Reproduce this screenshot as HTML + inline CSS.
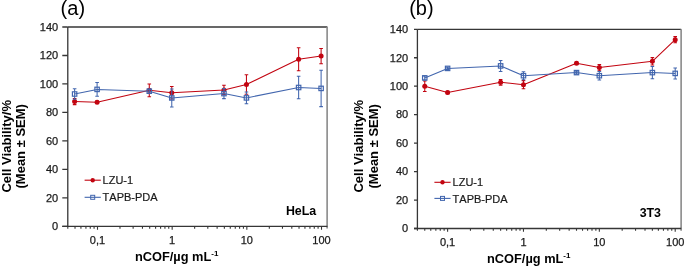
<!DOCTYPE html>
<html><head><meta charset="utf-8">
<style>
html,body{margin:0;padding:0;background:#fff;}
body{width:685px;height:267px;overflow:hidden;}
svg{display:block;will-change:transform;filter:blur(0.35px);}
text{font-family:"Liberation Sans",sans-serif;fill:#1a1a1a;font-kerning:none;}
.tk{font-size:11px;stroke:#1a1a1a;stroke-width:0.25px;}
.lg{font-size:11px;stroke:#1a1a1a;stroke-width:0.2px;}
.pl{font-size:20px;fill:#000;}
.cl{font-size:12.4px;font-weight:bold;fill:#000;}
.ax{font-size:13px;font-weight:bold;fill:#000;}
.xl{font-size:12.8px;}
.sup{font-size:8px;font-weight:bold;}
</style></head>
<body>
<svg width="685" height="267" viewBox="0 0 685 267">
<rect width="685" height="267" fill="#fff"/>
<path d="M67.79 27H327.42" stroke="#363636" stroke-width="1.3" fill="none"/>
<path d="M327.12 27V228.6" stroke="#8a8a8a" stroke-width="1.6" fill="none"/>
<path d="M67.79 27V226.4M62.29 226.4H327.42" stroke="#363636" stroke-width="1.3" fill="none"/>
<path d="M62.29 226.4H67.79M62.29 197.91H67.79M62.29 169.43H67.79M62.29 140.94H67.79M62.29 112.46H67.79M62.29 83.97H67.79M62.29 55.48H67.79M62.29 27H67.79" stroke="#363636" stroke-width="1.3" fill="none"/>
<path d="M67.79 226.4v2.3M75.02 226.4v2.3M80.93 226.4v2.3M85.93 226.4v2.3M90.26 226.4v2.3M94.08 226.4v2.3M97.5 226.4v3.3M119.98 226.4v2.3M133.13 226.4v2.3M142.46 226.4v2.3M149.69 226.4v2.3M155.6 226.4v2.3M160.6 226.4v2.3M164.93 226.4v2.3M168.75 226.4v2.3M172.17 226.4v3.3M194.65 226.4v2.3M207.8 226.4v2.3M217.13 226.4v2.3M224.36 226.4v2.3M230.27 226.4v2.3M235.27 226.4v2.3M239.6 226.4v2.3M243.42 226.4v2.3M246.84 226.4v3.3M269.32 226.4v2.3M282.47 226.4v2.3M291.8 226.4v2.3M299.03 226.4v2.3M304.94 226.4v2.3M309.94 226.4v2.3M314.27 226.4v2.3M318.09 226.4v2.3M321.51 226.4v3.3" stroke="#363636" stroke-width="1.1" fill="none"/>
<text x="58.2" y="230.15" text-anchor="end" class="tk">0</text>
<text x="58.2" y="201.66" text-anchor="end" class="tk">20</text>
<text x="58.2" y="173.18" text-anchor="end" class="tk">40</text>
<text x="58.2" y="144.69" text-anchor="end" class="tk">60</text>
<text x="58.2" y="116.21" text-anchor="end" class="tk">80</text>
<text x="58.2" y="87.72" text-anchor="end" class="tk">100</text>
<text x="58.2" y="59.23" text-anchor="end" class="tk">120</text>
<text x="58.2" y="30.75" text-anchor="end" class="tk">140</text>
<text x="97.5" y="243.7" text-anchor="middle" class="tk">0,1</text>
<text x="172.17" y="243.7" text-anchor="middle" class="tk">1</text>
<text x="246.84" y="243.7" text-anchor="middle" class="tk">10</text>
<text x="321.51" y="243.7" text-anchor="middle" class="tk">100</text>
<path d="M74.62 101.5 L97.1 102.3 L149.29 90.3 L171.77 92.7 L223.96 89.9 L246.44 84.5 L298.63 59.2 L321.11 56.1" stroke="#c20410" stroke-width="1.05" fill="none" stroke-linejoin="round"/>
<path d="M74.62 98.4V104.6M72.82 98.4h3.6M72.82 104.6h3.6M97.1 101.1V103.5M95.3 101.1h3.6M95.3 103.5h3.6M149.29 83.9V96.7M147.49 83.9h3.6M147.49 96.7h3.6M171.77 86.5V98.9M169.97 86.5h3.6M169.97 98.9h3.6M223.96 85.3V94.5M222.16 85.3h3.6M222.16 94.5h3.6M246.44 74.7V94.3M244.64 74.7h3.6M244.64 94.3h3.6M298.63 47.7V70.7M296.83 47.7h3.6M296.83 70.7h3.6M321.11 48.5V63.7M319.31 48.5h3.6M319.31 63.7h3.6" stroke="#c20410" stroke-width="1.05" fill="none"/>
<circle cx="74.62" cy="101.5" r="2.5" fill="#c20410"/>
<circle cx="97.1" cy="102.3" r="2.5" fill="#c20410"/>
<circle cx="149.29" cy="90.3" r="2.5" fill="#c20410"/>
<circle cx="171.77" cy="92.7" r="2.5" fill="#c20410"/>
<circle cx="223.96" cy="89.9" r="2.5" fill="#c20410"/>
<circle cx="246.44" cy="84.5" r="2.5" fill="#c20410"/>
<circle cx="298.63" cy="59.2" r="2.5" fill="#c20410"/>
<circle cx="321.11" cy="56.1" r="2.5" fill="#c20410"/>
<path d="M74.62 94 L97.1 89.4 L149.29 91.2 L171.77 97.95 L223.96 93.6 L246.44 97.9 L298.63 87.5 L321.11 88.4" stroke="#4266ae" stroke-width="1.05" fill="none" stroke-linejoin="round"/>
<path d="M74.62 88.8V99.2M72.82 88.8h3.6M72.82 99.2h3.6M97.1 82.5V96.3M95.3 82.5h3.6M95.3 96.3h3.6M149.29 89.2V93.2M147.49 89.2h3.6M147.49 93.2h3.6M171.77 89V106.9M169.97 89h3.6M169.97 106.9h3.6M223.96 88.6V98.6M222.16 88.6h3.6M222.16 98.6h3.6M246.44 92V103.8M244.64 92h3.6M244.64 103.8h3.6M298.63 76.3V98.7M296.83 76.3h3.6M296.83 98.7h3.6M321.11 70.2V106.6M319.31 70.2h3.6M319.31 106.6h3.6" stroke="#4266ae" stroke-width="1.05" fill="none"/>
<rect x="72.42" y="91.8" width="4.4" height="4.4" fill="none" stroke="#4266ae" stroke-width="1.2"/>
<rect x="94.9" y="87.2" width="4.4" height="4.4" fill="none" stroke="#4266ae" stroke-width="1.2"/>
<rect x="147.09" y="89" width="4.4" height="4.4" fill="none" stroke="#4266ae" stroke-width="1.2"/>
<rect x="169.57" y="95.75" width="4.4" height="4.4" fill="none" stroke="#4266ae" stroke-width="1.2"/>
<rect x="221.76" y="91.4" width="4.4" height="4.4" fill="none" stroke="#4266ae" stroke-width="1.2"/>
<rect x="244.24" y="95.7" width="4.4" height="4.4" fill="none" stroke="#4266ae" stroke-width="1.2"/>
<rect x="296.43" y="85.3" width="4.4" height="4.4" fill="none" stroke="#4266ae" stroke-width="1.2"/>
<rect x="318.91" y="86.2" width="4.4" height="4.4" fill="none" stroke="#4266ae" stroke-width="1.2"/>
<path d="M84.6 180.2h16.2" stroke="#c20410" stroke-width="1.1"/>
<circle cx="92.7" cy="180.2" r="2.2" fill="#c20410"/>
<path d="M84.6 197.3h16.2" stroke="#4266ae" stroke-width="1.1"/>
<rect x="90.7" y="195.3" width="4" height="4" fill="none" stroke="#4266ae" stroke-width="1"/>
<text x="102.6" y="184.1" class="lg">LZU-1</text>
<text x="102.6" y="201.4" class="lg">TAPB-PDA</text>
<text x="60.6" y="15" class="pl">(a)</text>
<text x="316.2" y="214.8" text-anchor="end" class="cl">HeLa</text>
<text x="134.9" y="260.8" class="ax xl">nCOF/µg mL<tspan class="sup" dy="-4.6">-1</tspan></text>
<text transform="translate(10.7 146.3) rotate(-90)" text-anchor="middle" class="ax">Cell Viability/%</text>
<text transform="translate(25 146.3) rotate(-90)" text-anchor="middle" class="ax">(Mean ± SEM)</text>
<path d="M417.41 29.3H681.22" stroke="#363636" stroke-width="1.3" fill="none"/>
<path d="M681.12 29.3V230.7" stroke="#8a8a8a" stroke-width="1.6" fill="none"/>
<path d="M417.41 29.3V228.5M414.01 228.5H681.22" stroke="#363636" stroke-width="1.3" fill="none"/>
<path d="M414.01 228.5H417.41M414.01 200.04H417.41M414.01 171.58H417.41M414.01 143.13H417.41M414.01 114.67H417.41M414.01 86.21H417.41M414.01 57.75H417.41M414.01 29.29H417.41" stroke="#363636" stroke-width="1.3" fill="none"/>
<path d="M417.41 228.5v2.3M424.76 228.5v2.3M430.77 228.5v2.3M435.85 228.5v2.3M440.25 228.5v2.3M444.13 228.5v2.3M447.6 228.5v3.3M470.44 228.5v2.3M483.8 228.5v2.3M493.28 228.5v2.3M500.63 228.5v2.3M506.64 228.5v2.3M511.72 228.5v2.3M516.12 228.5v2.3M520 228.5v2.3M523.47 228.5v3.3M546.31 228.5v2.3M559.67 228.5v2.3M569.15 228.5v2.3M576.5 228.5v2.3M582.51 228.5v2.3M587.59 228.5v2.3M591.99 228.5v2.3M595.87 228.5v2.3M599.34 228.5v3.3M622.18 228.5v2.3M635.54 228.5v2.3M645.02 228.5v2.3M652.37 228.5v2.3M658.38 228.5v2.3M663.46 228.5v2.3M667.86 228.5v2.3M671.74 228.5v2.3M675.21 228.5v3.3" stroke="#363636" stroke-width="1.1" fill="none"/>
<text x="408.2" y="232.25" text-anchor="end" class="tk">0</text>
<text x="408.2" y="203.79" text-anchor="end" class="tk">20</text>
<text x="408.2" y="175.33" text-anchor="end" class="tk">40</text>
<text x="408.2" y="146.88" text-anchor="end" class="tk">60</text>
<text x="408.2" y="118.42" text-anchor="end" class="tk">80</text>
<text x="408.2" y="89.96" text-anchor="end" class="tk">100</text>
<text x="408.2" y="61.5" text-anchor="end" class="tk">120</text>
<text x="408.2" y="33.04" text-anchor="end" class="tk">140</text>
<text x="447.6" y="245.8" text-anchor="middle" class="tk">0,1</text>
<text x="523.47" y="245.8" text-anchor="middle" class="tk">1</text>
<text x="599.34" y="245.8" text-anchor="middle" class="tk">10</text>
<text x="675.21" y="245.8" text-anchor="middle" class="tk">100</text>
<path d="M424.76 86.2 L447.6 92.4 L500.63 82.3 L523.47 84.7 L576.5 63.2 L599.34 67.6 L652.37 61.3 L675.21 39.7" stroke="#c20410" stroke-width="1.05" fill="none" stroke-linejoin="round"/>
<path d="M424.76 80.9V91.5M422.96 80.9h3.6M422.96 91.5h3.6M447.6 91.2V93.6M445.8 91.2h3.6M445.8 93.6h3.6M500.63 79.5V85.1M498.83 79.5h3.6M498.83 85.1h3.6M523.47 80.6V88.8M521.67 80.6h3.6M521.67 88.8h3.6M576.5 62V64.4M574.7 62h3.6M574.7 64.4h3.6M599.34 64.4V70.8M597.54 64.4h3.6M597.54 70.8h3.6M652.37 57.6V65M650.57 57.6h3.6M650.57 65h3.6M675.21 36.6V42.8M673.41 36.6h3.6M673.41 42.8h3.6" stroke="#c20410" stroke-width="1.05" fill="none"/>
<circle cx="424.76" cy="86.2" r="2.5" fill="#c20410"/>
<circle cx="447.6" cy="92.4" r="2.5" fill="#c20410"/>
<circle cx="500.63" cy="82.3" r="2.5" fill="#c20410"/>
<circle cx="523.47" cy="84.7" r="2.5" fill="#c20410"/>
<circle cx="576.5" cy="63.2" r="2.5" fill="#c20410"/>
<circle cx="599.34" cy="67.6" r="2.5" fill="#c20410"/>
<circle cx="652.37" cy="61.3" r="2.5" fill="#c20410"/>
<circle cx="675.21" cy="39.7" r="2.5" fill="#c20410"/>
<path d="M424.76 77.9 L447.6 68.4 L500.63 65.9 L523.47 75.7 L576.5 72.6 L599.34 75.7 L652.37 72.6 L675.21 73.4" stroke="#4266ae" stroke-width="1.05" fill="none" stroke-linejoin="round"/>
<path d="M424.76 75.9V79.9M422.96 75.9h3.6M422.96 79.9h3.6M447.6 67.2V69.6M445.8 67.2h3.6M445.8 69.6h3.6M500.63 60.4V71.4M498.83 60.4h3.6M498.83 71.4h3.6M523.47 71.7V79.7M521.67 71.7h3.6M521.67 79.7h3.6M576.5 71.1V74.1M574.7 71.1h3.6M574.7 74.1h3.6M599.34 71.4V80M597.54 71.4h3.6M597.54 80h3.6M652.37 66.4V78.8M650.57 66.4h3.6M650.57 78.8h3.6M675.21 67.9V78.9M673.41 67.9h3.6M673.41 78.9h3.6" stroke="#4266ae" stroke-width="1.05" fill="none"/>
<rect x="422.56" y="75.7" width="4.4" height="4.4" fill="none" stroke="#4266ae" stroke-width="1.2"/>
<rect x="445.4" y="66.2" width="4.4" height="4.4" fill="none" stroke="#4266ae" stroke-width="1.2"/>
<rect x="498.43" y="63.7" width="4.4" height="4.4" fill="none" stroke="#4266ae" stroke-width="1.2"/>
<rect x="521.27" y="73.5" width="4.4" height="4.4" fill="none" stroke="#4266ae" stroke-width="1.2"/>
<rect x="574.3" y="70.4" width="4.4" height="4.4" fill="none" stroke="#4266ae" stroke-width="1.2"/>
<rect x="597.14" y="73.5" width="4.4" height="4.4" fill="none" stroke="#4266ae" stroke-width="1.2"/>
<rect x="650.17" y="70.4" width="4.4" height="4.4" fill="none" stroke="#4266ae" stroke-width="1.2"/>
<rect x="673.01" y="71.2" width="4.4" height="4.4" fill="none" stroke="#4266ae" stroke-width="1.2"/>
<path d="M434.4 182.3h16.2" stroke="#c20410" stroke-width="1.1"/>
<circle cx="442.5" cy="182.3" r="2.2" fill="#c20410"/>
<path d="M434.4 198.4h16.2" stroke="#4266ae" stroke-width="1.1"/>
<rect x="440.5" y="196.4" width="4" height="4" fill="none" stroke="#4266ae" stroke-width="1"/>
<text x="452.6" y="186.2" class="lg">LZU-1</text>
<text x="452.6" y="202.5" class="lg">TAPB-PDA</text>
<text x="409.2" y="15" class="pl">(b)</text>
<text x="661" y="216.9" text-anchor="end" class="cl">3T3</text>
<text x="487" y="262.6" class="ax xl">nCOF/µg mL<tspan class="sup" dy="-4.6">-1</tspan></text>
<text transform="translate(363 146.3) rotate(-90)" text-anchor="middle" class="ax">Cell Viability/%</text>
<text transform="translate(377.8 146.3) rotate(-90)" text-anchor="middle" class="ax">(Mean ± SEM)</text>
</svg>
</body></html>
